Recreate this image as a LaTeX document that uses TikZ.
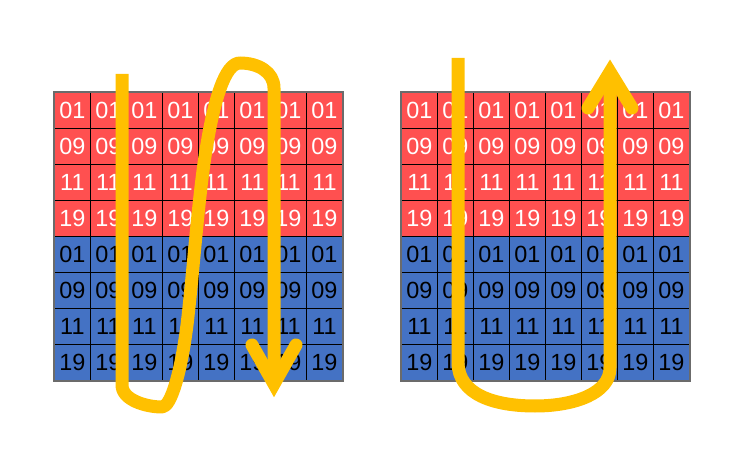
\documentclass[tikz,border=0pt]{standalone}
\usepackage{fontspec}
\setmainfont{Liberation Sans}
\definecolor{CellRed}{HTML}{FF5050}
\definecolor{CellBlue}{HTML}{4472C4}
\definecolor{ScanYellow}{HTML}{FFC000}
\definecolor{Border}{HTML}{6B6B6B}
\begin{document}
\begin{tikzpicture}[
  x=1bp,y=-1bp,
  cell/.style={draw=black, line width=0.8bp, minimum size=36bp, inner sep=0pt, anchor=north west, font=\fontsize{23.5}{23.5}\selectfont},
  redcell/.style={cell, fill=CellRed, text=white},
  bluecell/.style={cell, fill=CellBlue, text=black},
  frame/.style={draw=Border, line width=1.4bp},
  scan/.style={draw=ScanYellow, line width=13bp, line join=round},
  scanhead/.style={scan, line cap=round, line join=miter}
]
  \useasboundingbox (0,0) rectangle (742,456);

  % two 8x8 blocks, red rows on top, blue rows below
  \foreach \gx/\g in {54/L,401/R}{
    \foreach \num [count=\r from 0] in {01,09,11,19}{
      \foreach \c in {0,...,7}{
        \node[redcell] (\g-top-\r-\c) at ({\gx+36*\c},{92+36*\r}) {\num};
        \node[bluecell] (\g-bot-\r-\c) at ({\gx+36*\c},{236+36*\r}) {\num};
      }
    }
  }
  \draw[frame] (L-top-0-0.north west) rectangle (L-bot-3-7.south east);
  \draw[frame] (R-top-0-0.north west) rectangle (R-bot-3-7.south east);

  % left: down, back up, down again
  \draw[scan] (122,74) -- (122,385)
    .. controls (122,400) and (146,407) .. (162,407)
    .. controls (171,407) and (181,372) .. (187,325)
    .. controls (193,275) and (198,200) .. (206,150)
    .. controls (214,100) and (225,63) .. (240,63)
    .. controls (258,63) and (274,72) .. (274,88)
    -- (274,384);
  \draw[scanhead] (252,345) -- (274,384) -- (296,345);

  % right: down, then up
  \draw[scan] (458,58) -- (458,362)
    .. controls (458,395) and (495,406) .. (535,406)
    .. controls (575,406) and (610,393) .. (610,368)
    -- (610,72);
  \draw[scanhead] (588,108) -- (610,72) -- (632,108);
\end{tikzpicture}
\end{document}
